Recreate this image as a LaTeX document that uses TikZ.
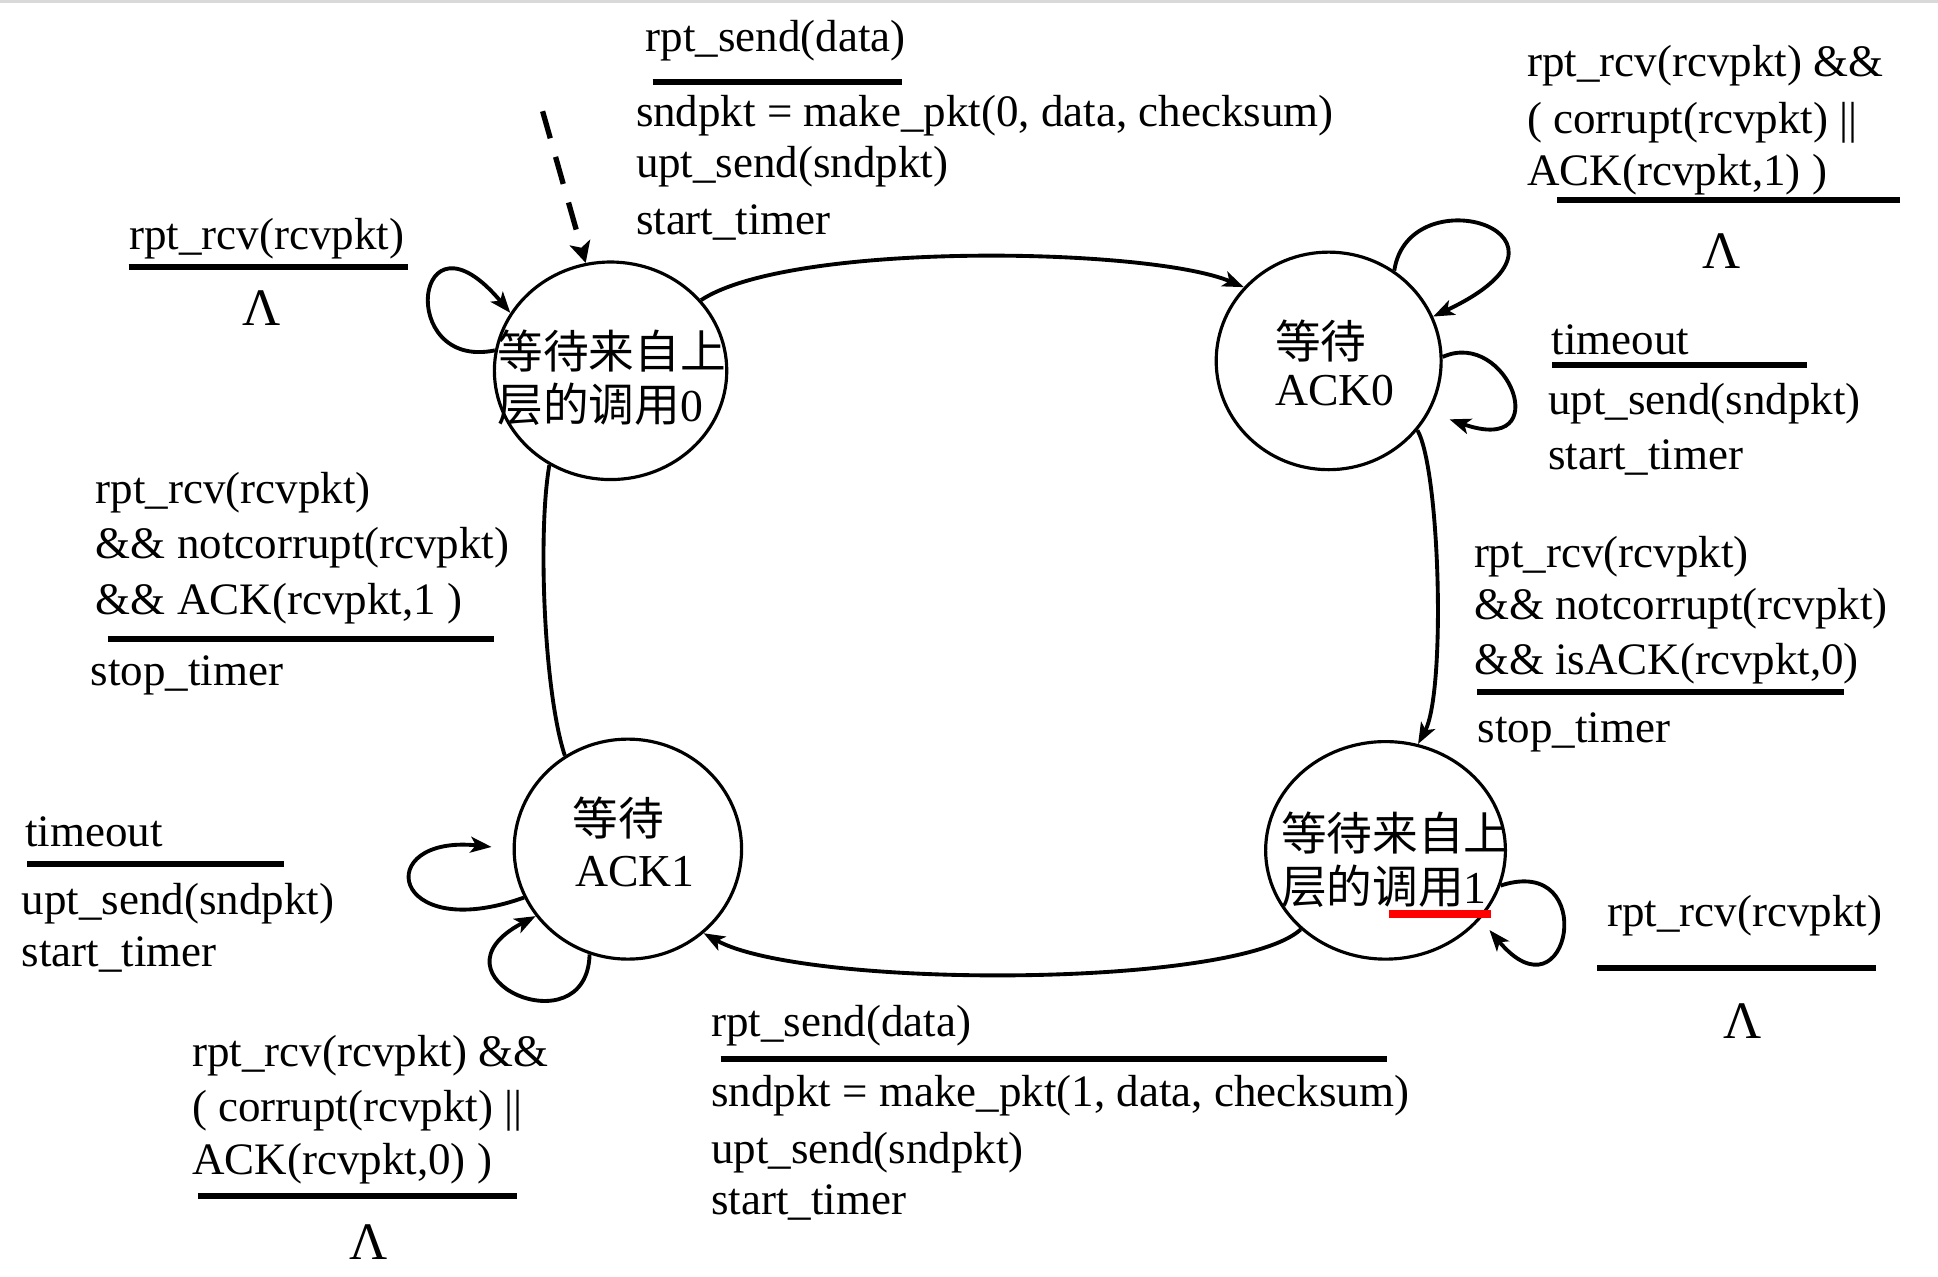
\documentclass[tikz,border=0pt]{standalone}
\usepackage{fontspec}
\setmainfont{Liberation Serif}
\newfontfamily\cjk{Noto Sans CJK SC}
\usetikzlibrary{arrows.meta,shapes.geometric}
\begin{document}
\begin{tikzpicture}[x=0.0123597cm, y=-0.0123597cm,
  state/.style={draw, ellipse, line width=0.9pt, inner sep=0pt},
  lbl/.style={anchor=base west, inner sep=0pt, font=\fontsize{12.8}{15.5}\selectfont},
  stxt/.style={anchor=base west, inner sep=0pt, font=\fontsize{13}{16}\selectfont},
  lam/.style={anchor=base, inner sep=0pt, font=\fontsize{15}{18}\selectfont},
  bar/.style={line width=1.7pt},
  trans/.style={line width=1.1pt, -{Stealth[length=6pt,width=4.5pt,inset=1.5pt]}},
  plain/.style={line width=1.1pt}]
\useasboundingbox (0,0) rectangle (1568,1032.4);
\fill[white] (0,0) rectangle (1568,1032.4);
\draw[black!15, line width=1pt] (0,1) -- (1568,1);

% states
\node[state, minimum width=2.3236cm, minimum height=2.1753cm] (S0) at (494,300) {};
\node[state, minimum width=2.2495cm, minimum height=2.1753cm] (S1) at (1075,292) {};
\node[state, minimum width=2.2742cm, minimum height=2.2000cm] (S2) at (508,687) {};
\node[state, minimum width=2.3978cm, minimum height=2.1753cm] (S3) at (1121,688) {};

% state texts
\node[stxt] (s0a) at (402,298) {\cjk 等待来自上};
\node[stxt] (s0b) at (402,341) {\cjk 层的调用\normalfont 0};
\node[stxt] (s1a) at (1031,290) {\cjk 等待};
\node[stxt] (s1b) at (1031,328) {ACK0};
\node[stxt] (s2a) at (463,676) {\cjk 等待};
\node[stxt] (s2b) at (465,717) {ACK1};
\node[stxt] (s3a) at (1036,688) {\cjk 等待来自上};
\node[stxt] (s3b) at (1036,731) {\cjk 层的调用\normalfont 1};
\draw[red, line width=2.3pt] (1124,739.5) -- (1206,739.5);

% initial arrow
\coordinate (init) at (439,90);
\draw[line width=1.5pt, dash pattern=on 8pt off 5.5pt, -{Stealth[length=6pt,width=6pt,inset=1.5pt]}] (init) -- (S0.103);

% transitions
\draw[trans] (S0.38) .. controls (640,195) and (930,200) .. (S1.139);
\draw[trans] (S1.-38) .. controls (1165,380) and (1170,560) .. (S3.73);
\draw[trans] (S3.223) .. controls (1000,800) and (650,800) .. (S2.-48);
\draw[plain] (S2.124) .. controls (440,560) and (435,430) .. (S0.237);

% self loops
\draw[trans] (S0.170) .. controls (320,300) and (335,160) .. (S0.150);
\draw[trans] (S1.54) .. controls (1140,140) and (1300,190) .. (S1.23);
\draw[trans, shorten >=6pt] (S1.2) .. controls (1220,265) and (1260,370) .. (S1.-27);
\draw[trans, shorten >=4pt] (S3.-17) .. controls (1295,690) and (1270,830) .. (S3.-36);
\draw[trans, shorten >=6pt] (S2.205) .. controls (315,765) and (300,675) .. (S2.180);
\draw[trans] (S2.250) .. controls (475,850) and (340,790) .. (S2.216);

% label S0 -> S1
\node[lbl] (a1) at (522,42) {rpt\_send(data)};
\draw[bar] (528,66) -- (730,66);
\node[lbl] (a2) at (514,102) {sndpkt = make\_pkt(0, data, checksum)};
\node[lbl] (a3) at (514,144) {upt\_send(sndpkt)};
\node[lbl] (a4) at (514,190) {start\_timer};

% label S0 loop
\node[lbl] (b1) at (104,202) {rpt\_rcv(rcvpkt)};
\draw[bar] (104,216) -- (330,216);
\node[lam] (b2) at (212,263) {Λ};

% label S2 -> S0
\node[lbl] (c1) at (77,407) {rpt\_rcv(rcvpkt)};
\node[lbl] (c2) at (77,452) {\&\& notcorrupt(rcvpkt)};
\node[lbl] (c3) at (77,497) {\&\& ACK(rcvpkt,1 )};
\draw[bar] (87,517) -- (400,517);
\node[lbl] (c4) at (73,555) {stop\_timer};

% label S1 top loop
\node[lbl] (d1) at (1235,62) {rpt\_rcv(rcvpkt) \&\&};
\node[lbl] (d2) at (1235,108) {( corrupt(rcvpkt) ||};
\node[lbl] (d3) at (1235,150) {ACK(rcvpkt,1) )};
\draw[bar] (1260,162) -- (1537,162);
\node[lam] (d4) at (1393,217) {Λ};

% label S1 right loop
\node[lbl] (e1) at (1255,287) {timeout};
\draw[bar] (1256,295) -- (1462,295);
\node[lbl] (e2) at (1252,335) {upt\_send(sndpkt)};
\node[lbl] (e3) at (1252,380) {start\_timer};

% label S1 -> S3
\node[lbl] (f1) at (1192,459) {rpt\_rcv(rcvpkt)};
\node[lbl] (f2) at (1192,501) {\&\& notcorrupt(rcvpkt)};
\node[lbl] (f3) at (1192,546) {\&\& isACK(rcvpkt,0)};
\draw[bar] (1195,560) -- (1492,560);
\node[lbl] (f4) at (1195,601) {stop\_timer};

% label S3 loop
\node[lbl] (g1) at (1300,750) {rpt\_rcv(rcvpkt)};
\draw[bar] (1292,783) -- (1518,783);
\node[lam] (g2) at (1410,840) {Λ};

% label S3 -> S2
\node[lbl] (h1) at (575,839) {rpt\_send(data)};
\draw[bar] (583,857) -- (1122,857);
\node[lbl] (h2) at (575,895) {sndpkt = make\_pkt(1, data, checksum)};
\node[lbl] (h3) at (575,941) {upt\_send(sndpkt)};
\node[lbl] (h4) at (575,983) {start\_timer};

% label S2 timeout loop
\node[lbl] (i1) at (20,685) {timeout};
\draw[bar] (22,699) -- (230,699);
\node[lbl] (i2) at (17,740) {upt\_send(sndpkt)};
\node[lbl] (i3) at (17,782) {start\_timer};

% label S2 bottom loop
\node[lbl] (j1) at (155,863) {rpt\_rcv(rcvpkt) \&\&};
\node[lbl] (j2) at (155,907) {( corrupt(rcvpkt) ||};
\node[lbl] (j3) at (155,950) {ACK(rcvpkt,0) )};
\draw[bar] (160,968) -- (418,968);
\node[lam] (j4) at (298,1019) {Λ};
\end{tikzpicture}
\end{document}
